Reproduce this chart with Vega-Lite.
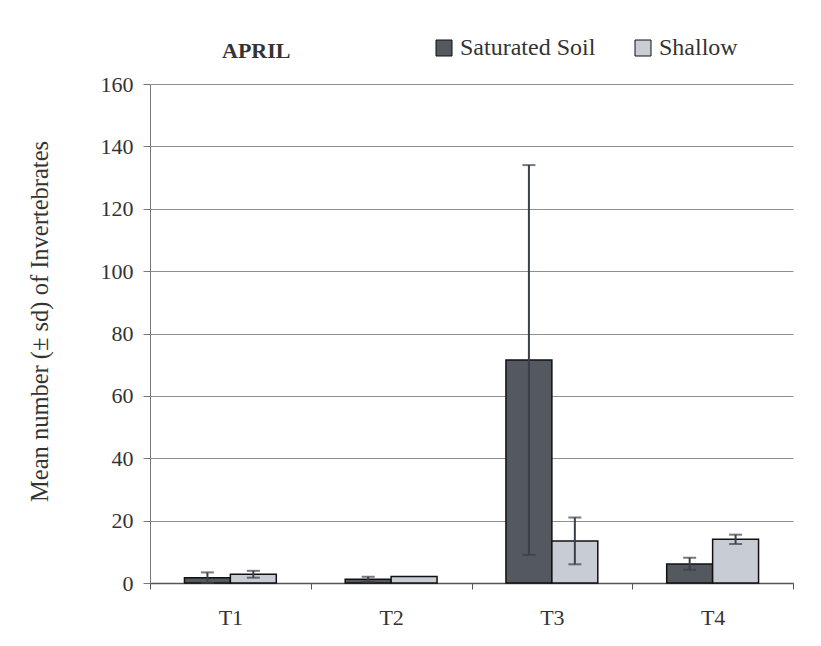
{
  "$schema": "https://vega.github.io/schema/vega-lite/v6.json",
  "width": 643,
  "height": 499,
  "autosize": {"type": "none"},
  "padding": {"left": 150, "top": 84, "right": 28, "bottom": 63},
  "background": "white",
  "title": {"text": "APRIL", "anchor": "start", "frame": "group", "dx": 72, "offset": -44, "baseline": "alphabetic", "font": "Liberation Serif", "fontSize": 22, "fontWeight": "bold", "color": "#333333"},
  "data": {"values": [
    {"period": "T1", "habitat": "Saturated Soil", "mean": 1.7, "lo": 0.0, "hi": 3.4},
    {"period": "T1", "habitat": "Shallow", "mean": 2.8, "lo": 1.7, "hi": 3.9},
    {"period": "T2", "habitat": "Saturated Soil", "mean": 1.2, "lo": 0.4, "hi": 2.0},
    {"period": "T2", "habitat": "Shallow", "mean": 2.1, "lo": null, "hi": null},
    {"period": "T3", "habitat": "Saturated Soil", "mean": 71.5, "lo": 9.0, "hi": 134.0},
    {"period": "T3", "habitat": "Shallow", "mean": 13.5, "lo": 6.0, "hi": 21.0},
    {"period": "T4", "habitat": "Saturated Soil", "mean": 6.1, "lo": 4.2, "hi": 8.1},
    {"period": "T4", "habitat": "Shallow", "mean": 14.0, "lo": 12.5, "hi": 15.5}
  ]},
  "encoding": {
    "x": {"field": "period", "type": "nominal", "sort": ["T1", "T2", "T3", "T4"],
      "scale": {"paddingInner": 0, "paddingOuter": 0},
      "axis": {"title": null, "labelAngle": 0, "tickBand": "extent", "domainColor": "#555555", "domainWidth": 1.5, "tickColor": "#555555", "tickSize": 6, "labelFont": "Liberation Serif", "labelFontSize": 22, "labelColor": "#333333", "labelPadding": 18}},
    "xOffset": {"field": "habitat", "type": "nominal", "sort": ["Saturated Soil", "Shallow"], "scale": {"paddingInner": 0, "paddingOuter": 0.75}}
  },
  "layer": [
    {
      "mark": {"type": "bar", "stroke": "#111111", "strokeWidth": 1.5},
      "encoding": {
        "y": {"field": "mean", "type": "quantitative", "title": "Mean number (± sd) of Invertebrates",
          "scale": {"domain": [0, 160]},
          "axis": {"values": [0, 20, 40, 60, 80, 100, 120, 140, 160], "grid": true, "gridColor": "#8a8f99", "gridWidth": 1.2, "domainColor": "#777777", "tickColor": "#777777", "tickSize": 7, "labelFont": "Liberation Serif", "labelFontSize": 22, "labelColor": "#333333", "labelPadding": 10, "titleFont": "Liberation Serif", "titleFontSize": 24.5, "titleFontWeight": "normal", "titleColor": "#333333", "titlePadding": 48, "titleY": 237}},
        "color": {"field": "habitat", "type": "nominal",
          "scale": {"domain": ["Saturated Soil", "Shallow"], "range": ["#54585f", "#c8ccd4"]},
          "legend": {"orient": "none", "legendX": 282, "legendY": -48, "direction": "horizontal", "title": null, "symbolType": "square", "symbolSize": 256, "symbolStrokeColor": "#111111", "symbolStrokeWidth": 1, "labelFont": "serif", "labelFontSize": 24, "labelColor": "#333333", "columnPadding": 35, "labelOffset": 4, "padding": 0}}
      }
    },
    {
      "mark": {"type": "rule", "color": "#3a3f4a", "strokeWidth": 2},
      "encoding": {
        "y": {"field": "lo", "type": "quantitative", "title": "Mean number (± sd) of Invertebrates"},
        "y2": {"field": "hi"}
      }
    },
    {
      "mark": {"type": "tick", "color": "#3a3f4a", "thickness": 2, "size": 13},
      "encoding": {"y": {"field": "hi", "type": "quantitative", "title": "Mean number (± sd) of Invertebrates"}}
    },
    {
      "mark": {"type": "tick", "color": "#3a3f4a", "thickness": 2, "size": 13},
      "encoding": {"y": {"field": "lo", "type": "quantitative", "title": "Mean number (± sd) of Invertebrates"}}
    }
  ],
  "config": {
    "font": "Liberation Serif",
    "view": {"stroke": null}
  }
}
